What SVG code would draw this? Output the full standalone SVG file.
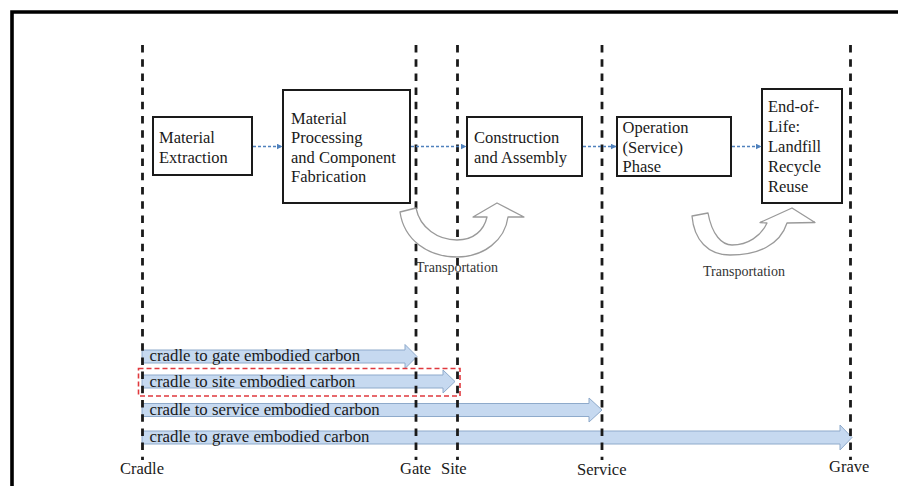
<svg xmlns="http://www.w3.org/2000/svg" width="898" height="486" viewBox="0 0 898 486">
  <style>
    .t { font-family: "Liberation Serif", "Times New Roman", serif; font-size: 16.5px; fill: #1a1a1a; }
    .b { font-size: 16.8px; }
    .s { font-size: 14px; fill: #333; }
    .box { fill: #fff; stroke: #1a1a1a; stroke-width: 2; }
    .stage { stroke: #1a1a1a; stroke-width: 2.8; stroke-dasharray: 7.5 6.7; fill: none; }
    .flow { stroke: #4f81bd; stroke-width: 1.5; stroke-dasharray: 3 2; fill: none; }
    .bar { fill: #c6d9f0; stroke: #8eaacb; stroke-width: 1; }
    .uturn { fill: #fff; stroke: #9a9a9a; stroke-width: 1.3; stroke-linejoin: round; }
  </style>
  <defs>
    <marker id="arr" viewBox="0 0 6 6" refX="5.5" refY="3" markerWidth="6" markerHeight="6" markerUnits="userSpaceOnUse" orient="auto">
      <path d="M0,0 L6,3 L0,6 Z" fill="#4f81bd"/>
    </marker>
  </defs>

  <rect width="898" height="486" fill="#fff"/>
  <!-- frame (top and left edges) -->
  <path d="M12,490 V12 H902" fill="none" stroke="#000" stroke-width="3.6"/>

  <!-- scope bars from cradle -->
  <g id="bar-gate">
    <path class="bar" d="M142,350 H405 V344.5 L417,356.5 L405,368.5 V363 H142 Z"/>
    <text class="t b" x="149.5" y="361">cradle to gate embodied carbon</text>
  </g>
  <g id="bar-site">
    <path class="bar" d="M142,375 H443 V370 L455,381.5 L443,393 V388 H142 Z"/>
    <text class="t b" x="149.5" y="387">cradle to site embodied carbon</text>
    <rect x="138.5" y="368.5" width="321.5" height="27.5" fill="none" stroke="#e0393e" stroke-width="1.6" stroke-dasharray="5 3"/>
  </g>
  <g id="bar-service">
    <path class="bar" d="M142,403.5 H589 V398 L602,410 L589,422 V416.5 H142 Z"/>
    <text class="t b" x="149.5" y="414.5">cradle to service embodied carbon</text>
  </g>
  <g id="bar-grave">
    <path class="bar" d="M142,431 H840 V425 L852,437.5 L840,450 V444 H142 Z"/>
    <text class="t b" x="149.5" y="441.5">cradle to grave embodied carbon</text>
  </g>

  <!-- stage boundaries -->
  <g id="stages">
    <line class="stage" x1="142.5" y1="45" x2="142.5" y2="460"/>
    <line class="stage" x1="416" y1="45" x2="416" y2="460"/>
    <line class="stage" x1="457.5" y1="45" x2="457.5" y2="460"/>
    <line class="stage" x1="602" y1="45" x2="602" y2="460"/>
    <line class="stage" x1="850.5" y1="45" x2="850.5" y2="460"/>
  </g>

  <!-- transport u-turn arrows -->
  <g id="transport-1">
    <path class="uturn" d="M400,212 L416,208 C420,228 438,240 457,240 C474,240 484,230 487,217 L473,217 L497,203 L524,217 L508,217 C505,240 484,257 457,257 C428,257 404,240 400,212 Z"/>
    <text class="t s" x="416" y="272">Transportation</text>
  </g>
  <g id="transport-2">
    <path class="uturn" d="M692,216 L708,213 C712,235 722,245 732,245 C748,245 761,236 767,223 L760,222.5 L792,208 L815,222.5 L787,223 C780,245 758,255 730,255 C708,255 694,240 692,216 Z"/>
    <text class="t s" x="703" y="276">Transportation</text>
  </g>

  <!-- process stages -->
  <g id="extraction">
    <rect class="box" x="153" y="117" width="99" height="58"/>
    <text class="t" x="159" y="143">Material</text>
    <text class="t" x="159" y="163">Extraction</text>
  </g>
  <g id="processing">
    <rect class="box" x="283" y="90" width="127" height="113"/>
    <text class="t" x="291" y="123.5">Material</text>
    <text class="t" x="291" y="143">Processing</text>
    <text class="t" x="291" y="162.5">and Component</text>
    <text class="t" x="291" y="182">Fabrication</text>
  </g>
  <g id="construction">
    <rect class="box" x="467" y="117" width="115" height="59"/>
    <text class="t" x="474" y="143">Construction</text>
    <text class="t" x="474" y="163">and Assembly</text>
  </g>
  <g id="operation">
    <rect class="box" x="617" y="117" width="114" height="59"/>
    <text class="t" x="622.5" y="133">Operation</text>
    <text class="t" x="622.5" y="153">(Service)</text>
    <text class="t" x="622.5" y="172">Phase</text>
  </g>
  <g id="end-of-life">
    <rect class="box" x="762" y="89" width="80" height="114"/>
    <text class="t" x="768" y="112">End-of-</text>
    <text class="t" x="768" y="132">Life:</text>
    <text class="t" x="768" y="152">Landfill</text>
    <text class="t" x="768" y="172">Recycle</text>
    <text class="t" x="768" y="192">Reuse</text>
  </g>

  <!-- flow between stages -->
  <g id="connectors">
    <line class="flow" x1="253" y1="146.5" x2="282" y2="146.5" marker-end="url(#arr)"/>
    <line class="flow" x1="411" y1="146.5" x2="466" y2="146.5" marker-end="url(#arr)"/>
    <line class="flow" x1="583" y1="146.5" x2="616" y2="146.5" marker-end="url(#arr)"/>
    <line class="flow" x1="732" y1="146.5" x2="761" y2="146.5" marker-end="url(#arr)"/>
  </g>

  <!-- boundary labels -->
  <g id="labels">
    <text class="t" x="120" y="474">Cradle</text>
    <text class="t" x="400" y="474">Gate</text>
    <text class="t" x="441" y="474">Site</text>
    <text class="t" x="577" y="475">Service</text>
    <text class="t" x="829" y="472">Grave</text>
  </g>
</svg>
